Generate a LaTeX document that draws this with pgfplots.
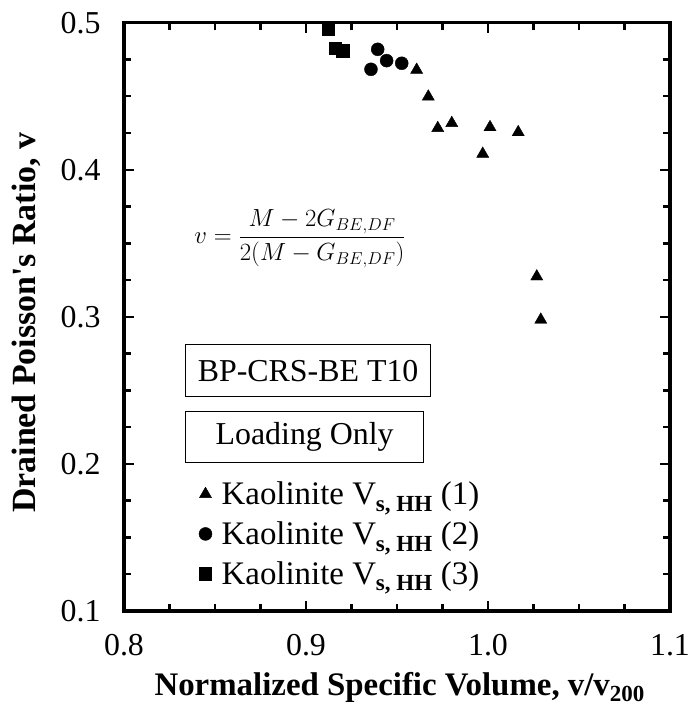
\documentclass[border=0pt]{standalone}
\usepackage{amsmath}
\usepackage{fontspec}
\setmainfont{Liberation Serif}
\usepackage{pgfplots}
\pgfplotsset{compat=1.18}

% T10 loading data, three series
\pgfplotstableread{
x y
0.9608 0.4679
0.9672 0.4497
0.9724 0.4283
0.9801 0.4317
1.0011 0.4289
0.9971 0.4108
1.0166 0.4255
1.0268 0.3274
1.0290 0.2980
}\seriesA
\pgfplotstableread{
x y
0.9394 0.4819
0.9357 0.4683
0.9443 0.4742
0.9526 0.4724
}\seriesB
\pgfplotstableread{
x y
0.9123 0.4955
0.9159 0.4826
0.9202 0.4810
}\seriesC

\begin{document}
\begin{tikzpicture}
\useasboundingbox (-124bp,-102bp) rectangle (569bp,611bp);
\begin{axis}[
    width=546bp, height=588.3bp, scale only axis,
    xmin=0.8, xmax=1.1, ymin=0.1, ymax=0.5,
    xtick={0.8,0.9,1.0,1.1},
    ytick={0.1,0.2,0.3,0.4,0.5},
    minor x tick num=3, minor y tick num=3,
    tick align=inside,
    major tick length=10bp, minor tick length=7bp,
    axis line style={line width=3.5bp},
    every tick/.style={black, line width=2.5bp},
    /pgf/number format/assume math mode=true,
    xticklabel style={/pgf/number format/.cd, fixed, fixed zerofill, precision=1, /tikz/.cd, yshift=-20bp},
    yticklabel style={/pgf/number format/.cd, fixed, fixed zerofill, precision=1, /tikz/.cd, xshift=-20bp},
    tick label style={font=\fontsize{32}{38}\selectfont},
    every axis x label/.style={at={(rel axis cs:0.505,-0.1428)}, anchor=base},
    every axis y label/.style={at={(rel axis cs:-0.1612,0.49)}, rotate=90, anchor=base},
    xlabel style={font=\fontsize{33}{40}\selectfont\bfseries},
    ylabel style={font=\fontsize{34}{40}\selectfont\bfseries},
    xlabel={Normalized Specific Volume, v/v\textsubscript{200}},
    ylabel={Drained Poisson\textquotesingle s Ratio, v},
    legend image code/.code={\draw[#1] plot coordinates {(0bp,0bp)}; \path (14bp,0bp);},
    legend cell align=left,
    legend style={at={(rel axis cs:0.137,0.223)}, anchor=north west,
        draw=none, fill=none, inner sep=0pt, row sep=11.5bp,
        font=\fontsize{33}{38}\selectfont},
]
\addplot[only marks, mark=triangle*, mark size=7bp, black] table {\seriesA};
\addplot[only marks, mark=*, mark size=6.5bp, black] table {\seriesB};
\addplot[only marks, mark=square*, mark size=6.2bp, black] table {\seriesC};
\legend{Kaolinite V\textsubscript{\textbf{s, HH}} (1),
        Kaolinite V\textsubscript{\textbf{s, HH}} (2),
        Kaolinite V\textsubscript{\textbf{s, HH}} (3)}

\node[font=\fontsize{25}{30}\selectfont] at (axis cs:0.8967,0.353)
    {$v = \dfrac{M - 2G_{BE,DF}}{2(M - G_{BE,DF})}$};
\node[draw, line width=1.3bp, minimum width=245bp, minimum height=52bp,
      inner sep=0pt, anchor=west, font=\fontsize{32}{38}\selectfont]
    at (axis cs:0.8335,0.2634) {BP-CRS-BE T10};
\node[draw, line width=1.3bp, minimum width=238bp, minimum height=51bp,
      inner sep=0pt, anchor=west, font=\fontsize{32}{38}\selectfont]
    at (axis cs:0.8335,0.2182) {Loading Only};
\end{axis}
\end{tikzpicture}
\end{document}
